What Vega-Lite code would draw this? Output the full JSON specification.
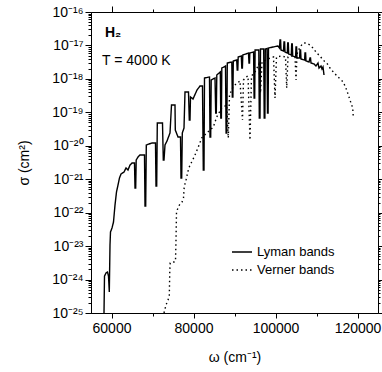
{
  "$schema": "https://vega.github.io/schema/vega-lite/v6.json",
  "width": 287,
  "height": 301,
  "autosize": {"type": "none"},
  "padding": {"left": 91, "top": 12, "right": 4, "bottom": 59},
  "config": {
    "font": "Liberation Sans",
    "view": {"stroke": "black", "strokeWidth": 1},
    "axis": {
      "grid": false,
      "labelFont": "Liberation Sans",
      "labelFontSize": 14,
      "labelColor": "black",
      "titleFont": "Liberation Sans",
      "titleFontSize": 14,
      "titleFontWeight": "normal",
      "titleColor": "black",
      "tickColor": "black",
      "domainColor": "black"
    }
  },
  "datasets": {
    "bands": [
      {"series": "Lyman bands", "w": 58171, "sigma": 1e-25},
      {"series": "Lyman bands", "w": 58293, "sigma": 1.27e-24},
      {"series": "Lyman bands", "w": 58659, "sigma": 1.57e-24},
      {"series": "Lyman bands", "w": 59024, "sigma": 1.68e-24},
      {"series": "Lyman bands", "w": 59268, "sigma": 1.27e-24},
      {"series": "Lyman bands", "w": 59463, "sigma": 4.24e-25},
      {"series": "Lyman bands", "w": 59634, "sigma": 1.08e-23},
      {"series": "Lyman bands", "w": 59756, "sigma": 2.64e-23},
      {"series": "Lyman bands", "w": 60122, "sigma": 3.48e-23},
      {"series": "Lyman bands", "w": 60488, "sigma": 5.25e-23},
      {"series": "Lyman bands", "w": 60854, "sigma": 1.69e-22},
      {"series": "Lyman bands", "w": 61219, "sigma": 4.14e-22},
      {"series": "Lyman bands", "w": 61585, "sigma": 6.71e-22},
      {"series": "Lyman bands", "w": 61951, "sigma": 1.09e-21},
      {"series": "Lyman bands", "w": 62317, "sigma": 1.43e-21},
      {"series": "Lyman bands", "w": 63049, "sigma": 1.64e-21},
      {"series": "Lyman bands", "w": 63537, "sigma": 2.16e-21},
      {"series": "Lyman bands", "w": 64024, "sigma": 1.88e-21},
      {"series": "Lyman bands", "w": 64512, "sigma": 2.66e-21},
      {"series": "Lyman bands", "w": 65000, "sigma": 3.05e-21},
      {"series": "Lyman bands", "w": 65610, "sigma": 3.05e-21},
      {"series": "Lyman bands", "w": 65732, "sigma": 5.46e-22},
      {"series": "Lyman bands", "w": 65902, "sigma": 5.46e-22},
      {"series": "Lyman bands", "w": 66024, "sigma": 3.75e-21},
      {"series": "Lyman bands", "w": 66463, "sigma": 4.61e-21},
      {"series": "Lyman bands", "w": 66951, "sigma": 5.3e-21},
      {"series": "Lyman bands", "w": 68049, "sigma": 5.3e-21},
      {"series": "Lyman bands", "w": 68171, "sigma": 1.58e-22},
      {"series": "Lyman bands", "w": 68341, "sigma": 1.58e-22},
      {"series": "Lyman bands", "w": 68488, "sigma": 1.054e-20},
      {"series": "Lyman bands", "w": 69146, "sigma": 1.13e-20},
      {"series": "Lyman bands", "w": 69878, "sigma": 1.21e-20},
      {"series": "Lyman bands", "w": 70732, "sigma": 1.21e-20},
      {"series": "Lyman bands", "w": 70854, "sigma": 6.27e-22},
      {"series": "Lyman bands", "w": 71024, "sigma": 6.27e-22},
      {"series": "Lyman bands", "w": 71171, "sigma": 4.8e-20},
      {"series": "Lyman bands", "w": 72439, "sigma": 4.8e-20},
      {"series": "Lyman bands", "w": 72634, "sigma": 3.75e-21},
      {"series": "Lyman bands", "w": 72805, "sigma": 3.75e-21},
      {"series": "Lyman bands", "w": 73049, "sigma": 1.054e-20},
      {"series": "Lyman bands", "w": 73536, "sigma": 1.39e-20},
      {"series": "Lyman bands", "w": 74268, "sigma": 2.41e-20},
      {"series": "Lyman bands", "w": 74634, "sigma": 1.66e-19},
      {"series": "Lyman bands", "w": 75488, "sigma": 1.66e-19},
      {"series": "Lyman bands", "w": 75561, "sigma": 2.96e-20},
      {"series": "Lyman bands", "w": 76219, "sigma": 1.83e-20},
      {"series": "Lyman bands", "w": 76829, "sigma": 1.83e-20},
      {"series": "Lyman bands", "w": 76951, "sigma": 1.087e-21},
      {"series": "Lyman bands", "w": 77122, "sigma": 1.087e-21},
      {"series": "Lyman bands", "w": 77268, "sigma": 2.41e-20},
      {"series": "Lyman bands", "w": 77683, "sigma": 3.4e-20},
      {"series": "Lyman bands", "w": 77927, "sigma": 4.06e-19},
      {"series": "Lyman bands", "w": 78780, "sigma": 4.06e-19},
      {"series": "Lyman bands", "w": 78976, "sigma": 5.89e-20},
      {"series": "Lyman bands", "w": 79146, "sigma": 5.89e-20},
      {"series": "Lyman bands", "w": 79268, "sigma": 2.87e-19},
      {"series": "Lyman bands", "w": 79878, "sigma": 2.5e-19},
      {"series": "Lyman bands", "w": 80853, "sigma": 4.65e-19},
      {"series": "Lyman bands", "w": 81585, "sigma": 6.12e-19},
      {"series": "Lyman bands", "w": 82195, "sigma": 6.12e-19},
      {"series": "Lyman bands", "w": 82390, "sigma": 1.88e-21},
      {"series": "Lyman bands", "w": 82561, "sigma": 1.88e-21},
      {"series": "Lyman bands", "w": 82683, "sigma": 1.062e-18},
      {"series": "Lyman bands", "w": 83902, "sigma": 1.14e-18},
      {"series": "Lyman bands", "w": 84024, "sigma": 1.83e-20},
      {"series": "Lyman bands", "w": 84195, "sigma": 1.83e-20},
      {"series": "Lyman bands", "w": 84317, "sigma": 9.27e-19},
      {"series": "Lyman bands", "w": 85244, "sigma": 1.062e-18},
      {"series": "Lyman bands", "w": 85415, "sigma": 9.55e-20},
      {"series": "Lyman bands", "w": 85561, "sigma": 9.55e-20},
      {"series": "Lyman bands", "w": 85683, "sigma": 1.31e-18},
      {"series": "Lyman bands", "w": 86537, "sigma": 1.61e-18},
      {"series": "Lyman bands", "w": 86659, "sigma": 6.76e-20},
      {"series": "Lyman bands", "w": 86805, "sigma": 6.76e-20},
      {"series": "Lyman bands", "w": 86903, "sigma": 2.11e-18},
      {"series": "Lyman bands", "w": 87805, "sigma": 2.43e-18},
      {"series": "Lyman bands", "w": 87951, "sigma": 2.41e-20},
      {"series": "Lyman bands", "w": 88122, "sigma": 2.41e-20},
      {"series": "Lyman bands", "w": 88244, "sigma": 2.99e-18},
      {"series": "Lyman bands", "w": 89342, "sigma": 3.2e-18},
      {"series": "Lyman bands", "w": 89463, "sigma": 2.87e-19},
      {"series": "Lyman bands", "w": 89610, "sigma": 2.87e-19},
      {"series": "Lyman bands", "w": 89707, "sigma": 3.43e-18},
      {"series": "Lyman bands", "w": 90537, "sigma": 3.67e-18},
      {"series": "Lyman bands", "w": 90659, "sigma": 1.85e-18},
      {"series": "Lyman bands", "w": 90805, "sigma": 1.85e-18},
      {"series": "Lyman bands", "w": 90902, "sigma": 4.51e-18},
      {"series": "Lyman bands", "w": 91658, "sigma": 4.83e-18},
      {"series": "Lyman bands", "w": 91780, "sigma": 2.11e-18},
      {"series": "Lyman bands", "w": 91927, "sigma": 2.11e-18},
      {"series": "Lyman bands", "w": 92024, "sigma": 5.18e-18},
      {"series": "Lyman bands", "w": 93414, "sigma": 5.94e-18},
      {"series": "Lyman bands", "w": 93536, "sigma": 2.99e-18},
      {"series": "Lyman bands", "w": 93658, "sigma": 2.99e-18},
      {"series": "Lyman bands", "w": 93731, "sigma": 5.94e-18},
      {"series": "Lyman bands", "w": 94658, "sigma": 6.37e-18},
      {"series": "Lyman bands", "w": 94780, "sigma": 2.68e-19},
      {"series": "Lyman bands", "w": 94927, "sigma": 2.68e-19},
      {"series": "Lyman bands", "w": 95024, "sigma": 7.31e-18},
      {"series": "Lyman bands", "w": 95927, "sigma": 7.31e-18},
      {"series": "Lyman bands", "w": 96049, "sigma": 6.76e-20},
      {"series": "Lyman bands", "w": 96219, "sigma": 6.76e-20},
      {"series": "Lyman bands", "w": 96341, "sigma": 7.83e-18},
      {"series": "Lyman bands", "w": 97122, "sigma": 7.83e-18},
      {"series": "Lyman bands", "w": 97244, "sigma": 6.76e-20},
      {"series": "Lyman bands", "w": 97415, "sigma": 6.76e-20},
      {"series": "Lyman bands", "w": 97512, "sigma": 7.83e-18},
      {"series": "Lyman bands", "w": 97926, "sigma": 8.11e-18},
      {"series": "Lyman bands", "w": 98049, "sigma": 9.55e-20},
      {"series": "Lyman bands", "w": 98195, "sigma": 9.55e-20},
      {"series": "Lyman bands", "w": 98293, "sigma": 8.38e-18},
      {"series": "Lyman bands", "w": 99390, "sigma": 8.98e-18},
      {"series": "Lyman bands", "w": 100609, "sigma": 9.62e-18},
      {"series": "Lyman bands", "w": 100975, "sigma": 8.38e-18},
      {"series": "Lyman bands", "w": 101097, "sigma": 1.455e-17},
      {"series": "Lyman bands", "w": 101243, "sigma": 1.455e-17},
      {"series": "Lyman bands", "w": 101341, "sigma": 7.31e-18},
      {"series": "Lyman bands", "w": 101951, "sigma": 6.82e-18},
      {"series": "Lyman bands", "w": 102073, "sigma": 1.27e-17},
      {"series": "Lyman bands", "w": 102219, "sigma": 1.27e-17},
      {"series": "Lyman bands", "w": 102317, "sigma": 6.37e-18},
      {"series": "Lyman bands", "w": 102878, "sigma": 5.94e-18},
      {"series": "Lyman bands", "w": 102975, "sigma": 1.18e-17},
      {"series": "Lyman bands", "w": 103122, "sigma": 1.18e-17},
      {"series": "Lyman bands", "w": 103219, "sigma": 5.55e-18},
      {"series": "Lyman bands", "w": 103853, "sigma": 5.18e-18},
      {"series": "Lyman bands", "w": 103951, "sigma": 1.1e-17},
      {"series": "Lyman bands", "w": 104097, "sigma": 1.1e-17},
      {"series": "Lyman bands", "w": 104195, "sigma": 4.83e-18},
      {"series": "Lyman bands", "w": 104902, "sigma": 4.51e-18},
      {"series": "Lyman bands", "w": 105000, "sigma": 8.98e-18},
      {"series": "Lyman bands", "w": 105146, "sigma": 8.98e-18},
      {"series": "Lyman bands", "w": 105243, "sigma": 4.21e-18},
      {"series": "Lyman bands", "w": 105877, "sigma": 4.21e-18},
      {"series": "Lyman bands", "w": 105975, "sigma": 7.31e-18},
      {"series": "Lyman bands", "w": 106121, "sigma": 7.31e-18},
      {"series": "Lyman bands", "w": 106219, "sigma": 3.93e-18},
      {"series": "Lyman bands", "w": 107097, "sigma": 3.67e-18},
      {"series": "Lyman bands", "w": 107195, "sigma": 5.94e-18},
      {"series": "Lyman bands", "w": 107341, "sigma": 5.94e-18},
      {"series": "Lyman bands", "w": 107439, "sigma": 3.43e-18},
      {"series": "Lyman bands", "w": 108170, "sigma": 3.2e-18},
      {"series": "Lyman bands", "w": 108414, "sigma": 4.21e-18},
      {"series": "Lyman bands", "w": 108536, "sigma": 4.21e-18},
      {"series": "Lyman bands", "w": 108658, "sigma": 2.99e-18},
      {"series": "Lyman bands", "w": 109390, "sigma": 2.79e-18},
      {"series": "Lyman bands", "w": 109878, "sigma": 2.43e-18},
      {"series": "Lyman bands", "w": 110365, "sigma": 2.99e-18},
      {"series": "Lyman bands", "w": 110609, "sigma": 2.11e-18},
      {"series": "Lyman bands", "w": 111097, "sigma": 2.43e-18},
      {"series": "Lyman bands", "w": 111341, "sigma": 1.97e-18},
      {"series": "Lyman bands", "w": 111585, "sigma": 2.26e-18},
      {"series": "Lyman bands", "w": 111829, "sigma": 1.31e-18},
      {"series": "Verner bands", "w": 72805, "sigma": 1e-25},
      {"series": "Verner bands", "w": 73293, "sigma": 1.73e-25},
      {"series": "Verner bands", "w": 73780, "sigma": 2.44e-25},
      {"series": "Verner bands", "w": 74097, "sigma": 3.21e-25},
      {"series": "Verner bands", "w": 74219, "sigma": 1.93e-24},
      {"series": "Verner bands", "w": 74317, "sigma": 3.12e-24},
      {"series": "Verner bands", "w": 74756, "sigma": 3.34e-24},
      {"series": "Verner bands", "w": 75244, "sigma": 3.34e-24},
      {"series": "Verner bands", "w": 75610, "sigma": 3.58e-24},
      {"series": "Verner bands", "w": 75732, "sigma": 1.52e-23},
      {"series": "Verner bands", "w": 75854, "sigma": 1.04e-22},
      {"series": "Verner bands", "w": 76293, "sigma": 1.48e-22},
      {"series": "Verner bands", "w": 76707, "sigma": 1.81e-22},
      {"series": "Verner bands", "w": 77195, "sigma": 2.08e-22},
      {"series": "Verner bands", "w": 77561, "sigma": 2.74e-22},
      {"series": "Verner bands", "w": 77732, "sigma": 5.85e-22},
      {"series": "Verner bands", "w": 78171, "sigma": 9.46e-22},
      {"series": "Verner bands", "w": 78732, "sigma": 1.88e-21},
      {"series": "Verner bands", "w": 79146, "sigma": 2.66e-21},
      {"series": "Verner bands", "w": 79561, "sigma": 3.27e-21},
      {"series": "Verner bands", "w": 80366, "sigma": 5.3e-21},
      {"series": "Verner bands", "w": 81171, "sigma": 9.18e-21},
      {"series": "Verner bands", "w": 82000, "sigma": 1.71e-20},
      {"series": "Verner bands", "w": 83220, "sigma": 2.41e-20},
      {"series": "Verner bands", "w": 84024, "sigma": 2.96e-20},
      {"series": "Verner bands", "w": 84829, "sigma": 3.64e-20},
      {"series": "Verner bands", "w": 85659, "sigma": 7.24e-20},
      {"series": "Verner bands", "w": 86878, "sigma": 1.35e-19},
      {"series": "Verner bands", "w": 88098, "sigma": 1.66e-19},
      {"series": "Verner bands", "w": 88488, "sigma": 1.71e-20},
      {"series": "Verner bands", "w": 88780, "sigma": 3.3e-19},
      {"series": "Verner bands", "w": 89634, "sigma": 5.71e-19},
      {"series": "Verner bands", "w": 90366, "sigma": 7.03e-19},
      {"series": "Verner bands", "w": 91341, "sigma": 8.65e-19},
      {"series": "Verner bands", "w": 91951, "sigma": 5.89e-20},
      {"series": "Verner bands", "w": 92195, "sigma": 9.27e-19},
      {"series": "Verner bands", "w": 92805, "sigma": 1.14e-18},
      {"series": "Verner bands", "w": 93293, "sigma": 1.22e-18},
      {"series": "Verner bands", "w": 93780, "sigma": 1.49e-20},
      {"series": "Verner bands", "w": 94146, "sigma": 1.22e-18},
      {"series": "Verner bands", "w": 95000, "sigma": 1.61e-18},
      {"series": "Verner bands", "w": 95732, "sigma": 2.43e-18},
      {"series": "Verner bands", "w": 95976, "sigma": 2.79e-18},
      {"series": "Verner bands", "w": 96341, "sigma": 3.78e-19},
      {"series": "Verner bands", "w": 96707, "sigma": 3.2e-18},
      {"series": "Verner bands", "w": 97683, "sigma": 3.67e-18},
      {"series": "Verner bands", "w": 98659, "sigma": 4.21e-18},
      {"series": "Verner bands", "w": 99512, "sigma": 4.51e-18},
      {"series": "Verner bands", "w": 99878, "sigma": 2.68e-19},
      {"series": "Verner bands", "w": 100244, "sigma": 4.51e-18},
      {"series": "Verner bands", "w": 101341, "sigma": 4.83e-18},
      {"series": "Verner bands", "w": 102439, "sigma": 4.51e-18},
      {"series": "Verner bands", "w": 102732, "sigma": 5.33e-19},
      {"series": "Verner bands", "w": 103049, "sigma": 4.51e-18},
      {"series": "Verner bands", "w": 104024, "sigma": 4.83e-18},
      {"series": "Verner bands", "w": 104756, "sigma": 4.83e-18},
      {"series": "Verner bands", "w": 105000, "sigma": 9.27e-19},
      {"series": "Verner bands", "w": 105243, "sigma": 5.55e-18},
      {"series": "Verner bands", "w": 105975, "sigma": 8.98e-18},
      {"series": "Verner bands", "w": 106780, "sigma": 1.18e-17},
      {"series": "Verner bands", "w": 107439, "sigma": 1.18e-17},
      {"series": "Verner bands", "w": 108414, "sigma": 1.03e-17},
      {"series": "Verner bands", "w": 109146, "sigma": 8.38e-18},
      {"series": "Verner bands", "w": 110049, "sigma": 5.94e-18},
      {"series": "Verner bands", "w": 110853, "sigma": 4.83e-18},
      {"series": "Verner bands", "w": 111585, "sigma": 3.67e-18},
      {"series": "Verner bands", "w": 112487, "sigma": 2.99e-18},
      {"series": "Verner bands", "w": 113292, "sigma": 2.11e-18},
      {"series": "Verner bands", "w": 114097, "sigma": 1.61e-18},
      {"series": "Verner bands", "w": 115243, "sigma": 1.14e-18},
      {"series": "Verner bands", "w": 116536, "sigma": 8.07e-19},
      {"series": "Verner bands", "w": 117365, "sigma": 4.65e-19},
      {"series": "Verner bands", "w": 118170, "sigma": 2.33e-19},
      {"series": "Verner bands", "w": 118829, "sigma": 1.35e-19},
      {"series": "Verner bands", "w": 118975, "sigma": 7.24e-20}
    ],
    "notes": [
      {"w": 58400, "sigma": 1.79e-17, "label": "H₂", "kind": "species"},
      {"w": 57700, "sigma": 2.6e-18, "label": "T = 4000 K", "kind": "temp"}
    ]
  },
  "layer": [
    {
      "data": {"name": "bands"},
      "mark": {"type": "line", "color": "black", "strokeWidth": 1.4, "clip": true},
      "encoding": {
        "x": {
          "field": "w", "type": "quantitative",
          "scale": {"domain": [55000, 125000], "nice": false, "zero": false},
          "axis": {"orient": "bottom", "values": [60000, 80000, 100000, 120000], "format": "d", "tickSize": 5, "labelPadding": 3, "title": "ω (cm⁻¹)", "titlePadding": 15}
        },
        "y": {
          "field": "sigma", "type": "quantitative",
          "scale": {"type": "log", "domain": [1e-25, 1e-16], "nice": false},
          "axis": {
            "orient": "left",
            "values": [1e-25, 1e-24, 1e-23, 1e-22, 1e-21, 1e-20, 1e-19, 1e-18, 1e-17, 1e-16],
            "labelExpr": "['10⁻²⁵','10⁻²⁴','10⁻²³','10⁻²²','10⁻²¹','10⁻²⁰','10⁻¹⁹','10⁻¹⁸','10⁻¹⁷','10⁻¹⁶'][round(log(datum.value)/LN10)+25]",
            "tickSize": 6, "labelPadding": 2, "title": "σ (cm²)", "titlePadding": 20
          }
        },
        "strokeDash": {
          "field": "series", "type": "nominal",
          "scale": {"domain": ["Lyman bands", "Verner bands"], "range": [[1, 0], [1.5, 3]]},
          "legend": {
            "orient": "none", "legendX": 140, "legendY": 229, "title": null,
            "symbolType": "stroke", "symbolSize": 400, "symbolStrokeWidth": 1.4,
            "symbolStrokeColor": "black", "labelFontSize": 13, "labelFont": "Liberation Sans",
            "labelColor": "black", "labelOffset": 4, "rowPadding": -2, "padding": 0
          }
        }
      }
    },
    {
      "data": {"name": "bands"},
      "mark": {"type": "point", "opacity": 0},
      "encoding": {
        "x": {
          "field": "w", "type": "quantitative",
          "scale": {"domain": [55000, 125000], "nice": false, "zero": false},
          "axis": {"orient": "bottom", "values": [70000, 90000, 110000], "labels": false, "domain": false, "tickSize": 3, "title": null}
        },
        "y": {
          "field": "sigma", "type": "quantitative",
          "scale": {"type": "log", "domain": [1e-25, 1e-16], "nice": false},
          "axis": {
            "orient": "left", "labels": false, "domain": false, "tickSize": 3, "title": null,
            "values": [2e-25,3e-25,4e-25,5e-25,6e-25,7e-25,8e-25,9e-25,2e-24,3e-24,4e-24,5e-24,6e-24,7e-24,8e-24,9e-24,2e-23,3e-23,4e-23,5e-23,6e-23,7e-23,8e-23,9e-23,2e-22,3e-22,4e-22,5e-22,6e-22,7e-22,8e-22,9e-22,2e-21,3e-21,4e-21,5e-21,6e-21,7e-21,8e-21,9e-21,2e-20,3e-20,4e-20,5e-20,6e-20,7e-20,8e-20,9e-20,2e-19,3e-19,4e-19,5e-19,6e-19,7e-19,8e-19,9e-19,2e-18,3e-18,4e-18,5e-18,6e-18,7e-18,8e-18,9e-18,2e-17,3e-17,4e-17,5e-17,6e-17,7e-17,8e-17,9e-17]
          }
        }
      }
    },
    {
      "data": {"name": "bands"},
      "mark": {"type": "point", "opacity": 0},
      "encoding": {
        "x": {
          "field": "w", "type": "quantitative",
          "scale": {"domain": [55000, 125000], "nice": false, "zero": false},
          "axis": {"orient": "top", "values": [60000, 80000, 100000, 120000], "labels": false, "domain": false, "tickSize": 6, "title": null}
        },
        "y": {
          "field": "sigma", "type": "quantitative",
          "scale": {"type": "log", "domain": [1e-25, 1e-16], "nice": false},
          "axis": {"orient": "right", "values": [1e-25, 1e-24, 1e-23, 1e-22, 1e-21, 1e-20, 1e-19, 1e-18, 1e-17, 1e-16], "labels": false, "domain": false, "tickSize": 4, "title": null}
        }
      }
    },
    {
      "data": {"name": "bands"},
      "mark": {"type": "point", "opacity": 0},
      "encoding": {
        "x": {
          "field": "w", "type": "quantitative",
          "scale": {"domain": [55000, 125000], "nice": false, "zero": false},
          "axis": {"orient": "top", "values": [70000, 90000, 110000], "labels": false, "domain": false, "tickSize": 3, "title": null}
        },
        "y": {
          "field": "sigma", "type": "quantitative",
          "scale": {"type": "log", "domain": [1e-25, 1e-16], "nice": false},
          "axis": {
            "orient": "right", "labels": false, "domain": false, "tickSize": 2, "title": null,
            "values": [2e-25,3e-25,4e-25,5e-25,6e-25,7e-25,8e-25,9e-25,2e-24,3e-24,4e-24,5e-24,6e-24,7e-24,8e-24,9e-24,2e-23,3e-23,4e-23,5e-23,6e-23,7e-23,8e-23,9e-23,2e-22,3e-22,4e-22,5e-22,6e-22,7e-22,8e-22,9e-22,2e-21,3e-21,4e-21,5e-21,6e-21,7e-21,8e-21,9e-21,2e-20,3e-20,4e-20,5e-20,6e-20,7e-20,8e-20,9e-20,2e-19,3e-19,4e-19,5e-19,6e-19,7e-19,8e-19,9e-19,2e-18,3e-18,4e-18,5e-18,6e-18,7e-18,8e-18,9e-18,2e-17,3e-17,4e-17,5e-17,6e-17,7e-17,8e-17,9e-17]
          }
        }
      }
    },
    {
      "data": {"name": "notes"},
      "transform": [{"filter": "datum.kind === 'species'"}],
      "mark": {"type": "text", "align": "left", "baseline": "alphabetic", "fontSize": 14, "fontWeight": "bold", "font": "Liberation Sans", "color": "black"},
      "encoding": {
        "x": {"field": "w", "type": "quantitative", "axis": null},
        "y": {"field": "sigma", "type": "quantitative", "axis": null},
        "text": {"field": "label"}
      }
    },
    {
      "data": {"name": "notes"},
      "transform": [{"filter": "datum.kind === 'temp'"}],
      "mark": {"type": "text", "align": "left", "baseline": "alphabetic", "fontSize": 14, "font": "Liberation Sans", "color": "black"},
      "encoding": {
        "x": {"field": "w", "type": "quantitative", "axis": null},
        "y": {"field": "sigma", "type": "quantitative", "axis": null},
        "text": {"field": "label"}
      }
    }
  ],
  "resolve": {"axis": {"x": "independent", "y": "independent"}}
}
